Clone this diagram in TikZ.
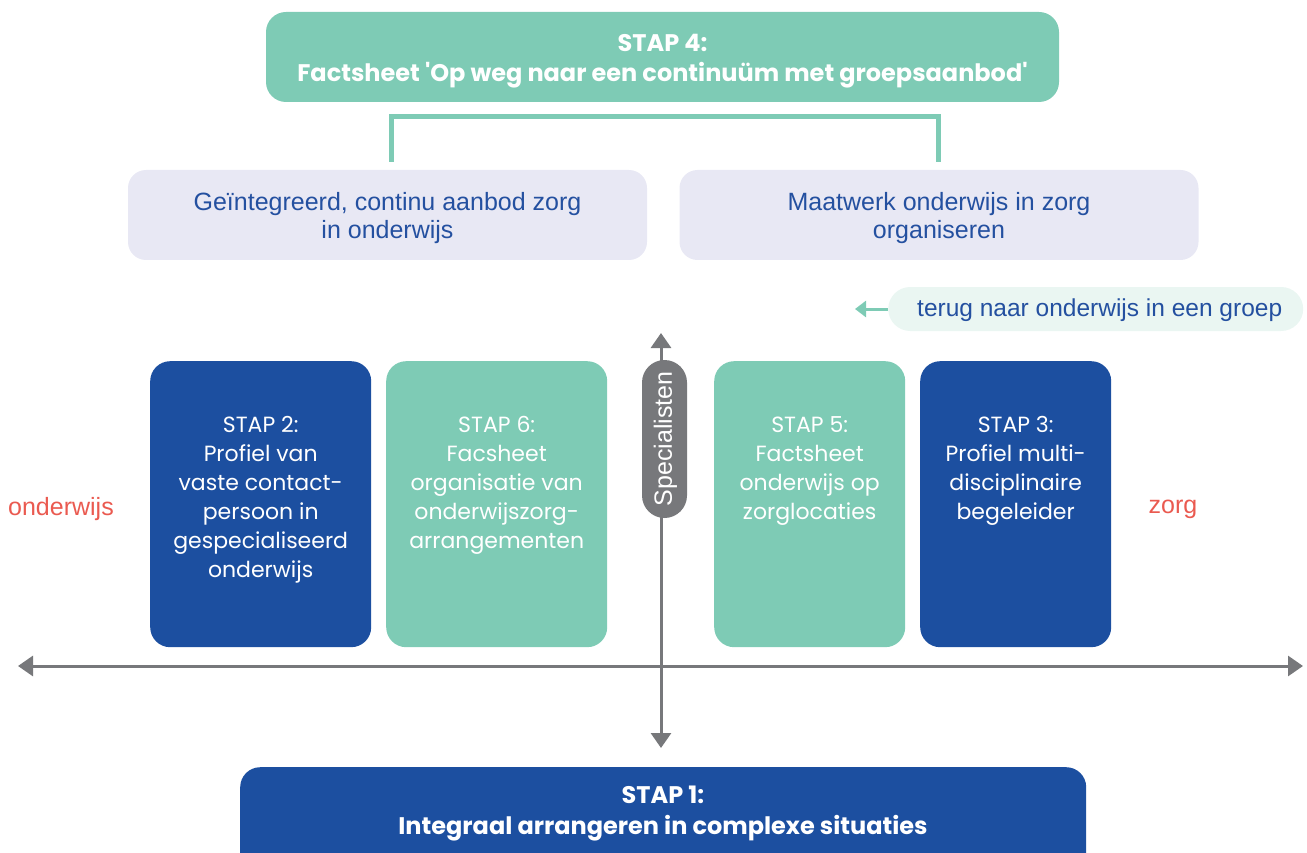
\documentclass[tikz,border=0pt]{standalone}
\usepackage{fontspec}
\setmainfont{Poppins}[Ligatures=TeXOff]
\newfontfamily\lsans{Liberation Sans}
\usetikzlibrary{arrows.meta}
\definecolor{teal4}{HTML}{7ECBB5}
\definecolor{navy}{HTML}{1C4FA0}
\definecolor{lav}{HTML}{E8E8F4}
\definecolor{lavtxt}{HTML}{2450A0}
\definecolor{mint}{HTML}{EAF6F2}
\definecolor{axisgray}{HTML}{77787B}
\definecolor{redtxt}{HTML}{EA5A50}
\tikzset{
  box/.style={rounded corners=20pt, minimum width=#1, minimum height=286pt, inner sep=0pt, anchor=north west},
  boxtext/.style={anchor=north, align=center, text=white, font=\fontsize{22}{29}\selectfont, inner sep=0pt},
  titlebox/.style={rounded corners=20pt, inner sep=0pt},
  titletext/.style={text=white, align=center, font=\fontsize{24}{30}\selectfont\bfseries, inner sep=0pt},
  lavbox/.style={fill=lav, rounded corners=18pt, minimum width=519pt, minimum height=90pt, inner sep=0pt},
  lavtext/.style={text=lavtxt, align=center, font=\lsans\fontsize{25}{28}\selectfont, inner sep=0pt},
  axis/.style={draw=axisgray, line width=3pt, {Triangle[width=20pt,length=15pt]}-{Triangle[width=20pt,length=15pt]}},
  sidelabel/.style={text=redtxt, font=\lsans\fontsize{25}{28}\selectfont, inner sep=0pt}
}
\begin{document}
\begin{tikzpicture}[x=1pt,y=-1pt]
\useasboundingbox (0,0) rectangle (1307,853);
% axes
\coordinate (hl) at (18,666);
\coordinate (hr) at (1303,666);
\coordinate (vt) at (661,333);
\coordinate (vb) at (661,748);
\draw[axis] (hl) -- (hr);
\draw[axis] (vt) -- (vb);
\node[fill=axisgray, rounded corners=22.5pt, minimum width=45pt, minimum height=158pt, inner sep=0pt] (spec) at (664.5,439) {};
\node[rotate=90, text=white, font=\lsans\fontsize{25}{28}\selectfont, inner sep=0pt] (spect) at ([xshift=1pt]spec.center) {Specialisten};
% top
\node[titlebox, fill=teal4, minimum width=793pt, minimum height=90pt] (s4) at (662.5,57) {};
\node[titletext] (t4) at (662.5,61) {STAP 4:\\Factsheet 'Op weg naar een continuüm met groepsaanbod'};
\node[lavbox] (l1) at (387.5,215) {};
\node[lavbox] (l2) at (939,215) {};
\node[lavtext] (l1t) at (387.5,218) {Geïntegreerd, continu aanbod zorg\\in onderwijs};
\node[lavtext] (l2t) at (939,218) {Maatwerk onderwijs in zorg\\organiseren};
\coordinate (b1) at (391,162);
\coordinate (b2) at (938,162);
\draw[teal4, line width=5pt] (b1) -- (391,117) -| (b2);
% terug pill
\node[fill=mint, rounded corners=22pt, minimum width=415pt, minimum height=44pt, inner sep=0pt, anchor=west] (terug) at (888,309) {};
\node[text=lavtxt, font=\lsans\fontsize{24.5}{28}\selectfont, inner sep=0pt, anchor=west] (terugt) at (917,310) {terug naar onderwijs in een groep};
\coordinate (ta) at (855,309);
\draw[teal4, line width=3pt, -{Triangle[width=16pt,length=11pt]}] (terug.west) -- (ta);
% boxes
\node[box=221pt, fill=navy] (s2) at (150,361) {};
\node[box=221pt, fill=teal4] (s6) at (386,361) {};
\node[box=191pt, fill=teal4] (s5) at (714,361) {};
\node[box=191pt, fill=navy] (s3) at (920,361) {};
\node[boxtext] (t2) at ([yshift=-55pt]s2.north) {STAP 2:\\Profiel van\\vaste contact-\\persoon in\\gespecialiseerd\\onderwijs};
\node[boxtext] (t6) at ([yshift=-55pt]s6.north) {STAP 6:\\Facsheet\\organisatie van\\onderwijszorg-\\arrangementen};
\node[boxtext] (t5) at ([yshift=-55pt]s5.north) {STAP 5:\\Factsheet\\onderwijs op\\zorglocaties};
\node[boxtext] (t3) at ([yshift=-55pt]s3.north) {STAP 3:\\Profiel multi-\\disciplinaire\\begeleider};
% side labels
\node[sidelabel, anchor=west] (ow) at (8,509) {onderwijs};
\node[sidelabel] (zg) at (1173,509) {zorg};
% bottom
\node[titlebox, fill=navy, minimum width=846pt, minimum height=110pt, anchor=north west] (s1) at (240,767) {};
\node[titletext, font=\fontsize{24}{31}\selectfont\bfseries] (t1) at (663,814) {STAP 1:\\Integraal arrangeren in complexe situaties};
\end{tikzpicture}
\end{document}
